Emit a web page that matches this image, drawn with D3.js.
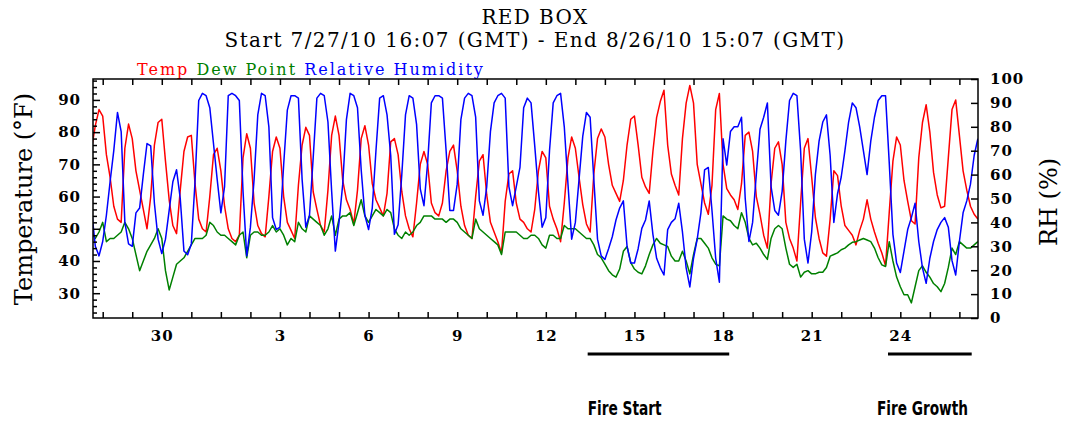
<!DOCTYPE html>
<html>
<head>
<meta charset="utf-8">
<script src="https://cdn.jsdelivr.net/npm/d3@7"></script>
<style>
  body { margin: 0; background: #fff; }
  svg { display: block; }
</style>
</head>
<body>
<div id="chart"></div>
<script>
// readings every 3 hours, the first one at 7/27/10 15:00 GMT
const temp = [
  75, 82, 87,
  85, 73, 66, 57, 53, 52, 75, 82.5,      // 7/28
  78, 68, 62, 56, 50, 60, 76, 83,        // 7/29
  84, 71, 59, 51, 48.5, 62, 74, 78.5,    // 7/30
  79, 64, 53, 50, 49, 60, 73, 75,        // 7/31
  68, 57, 50, 47, 46, 48, 72, 79.5,      // 8/1
  75, 58, 51, 48.5, 47.5, 60, 74, 78.5,  // 8/2
  75, 60, 52, 49.5, 47, 63.5, 76, 81.5,  // 8/3
  79, 61.5, 56, 51, 49, 62, 79, 85,      // 8/4
  79, 65, 59, 56, 51.5, 62, 78, 82,      // 8/5
  76, 64, 59, 56.5, 54, 61, 77, 78,      // 8/6
  73, 61.5, 54, 50, 47.5, 58, 70, 74,    // 8/7
  70, 58, 55, 54, 58, 68, 74, 76,        // 8/8
  68, 57, 51, 48, 47, 60, 71, 73,        // 8/9
  60.5, 52, 49, 46, 42.5, 58.5, 67, 68,  // 8/10
  58, 53, 52, 50, 49, 56, 68, 74,        // 8/11
  72, 57, 53, 50, 46, 58, 72, 78.5,      // 8/12
  75, 66, 57.5, 51.5, 49, 67, 78, 81,    // 8/13
  78.5, 70, 63.5, 61, 58.5, 65, 76, 84,  // 8/14
  85, 76, 66, 63, 61, 74, 84.5, 89.5,    // 8/15
  93, 76, 67, 63.5, 60.5, 78, 89, 94.5,  // 8/16
  89, 70, 64, 58, 54.5, 63.5, 87, 92,    // 8/17
  70, 62.5, 60.5, 59, 56, 64, 79, 80,    // 8/18
  74, 60, 54.5, 48, 44, 64, 75, 77,      // 8/19
  70, 52, 47, 44, 40, 58, 75, 78,        // 8/20
  66, 53.5, 47, 42.5, 41.5, 53, 68, 66.5,// 8/21
  57, 51, 49.5, 48, 45, 49.5, 53, 59,    // 8/22
  53, 49, 45.5, 42.5, 38.5, 55, 71, 78.5,// 8/23
  76, 65, 58.5, 52.5, 51.5, 72, 83, 88.5,// 8/24
  80, 67.5, 60.5, 56.5, 57, 72, 87, 90,  // 8/25
  79, 68, 62, 57, 54.5, 53               // 8/26
];

const dewPoint = [
  49, 47, 49,
  52, 46, 47, 47, 48, 49, 52, 50,
  47, 42, 37, 40, 43, 45, 47, 50,
  47, 37, 31, 35, 39, 40, 41, 43,
  45, 47, 47, 47, 48, 52, 51, 49,
  48, 48, 47, 46, 45, 48, 49, 41,
  48, 49, 49, 48, 48, 49, 51, 49,
  50, 48, 45, 47, 46, 52, 50, 49,
  54, 53, 52, 51, 48, 50, 54, 48,
  53, 54, 54, 55, 51, 55, 59, 54,
  52, 54, 56, 55, 54, 56, 55, 50,
  48, 47, 49, 48, 49, 51, 52, 54,
  54, 54, 53, 53, 53, 52, 53, 53,
  52, 50, 49, 48, 47, 53, 50, 49,
  48, 47, 46, 45, 42, 49, 49, 49,
  49, 48, 47, 47, 48, 48, 47, 45,
  44, 48, 48, 47, 47, 51, 50, 50,
  50, 49, 48, 47, 47, 45, 42, 41,
  39, 37, 35.7, 35, 37.5, 43, 44.5, 39.5,
  37.5, 36.5, 36, 38.5, 42, 45, 47, 45.5,
  45, 44.5, 41.5, 40, 40, 43, 40, 36,
  42, 47, 47, 45.5, 44, 41, 39, 38.5,
  54, 53, 52.5, 51, 50, 55, 52, 47,
  45, 45.5, 44, 42, 40.5, 47, 50, 51,
  50, 44, 39, 38, 39, 35, 36.5, 37,
  36, 36, 36.5, 36.5, 38, 41.5, 42, 42.5,
  43.5, 44, 45, 45.8, 46, 46.5, 47, 46.5,
  46, 44, 41, 38.8, 38.3, 46, 40, 35,
  32, 29.5, 29.5, 27, 32, 37, 38.5, 36.5,
  35, 33, 32, 30.5, 33, 38, 44, 42,
  46, 45, 44, 44, 45, 46
];

const relHumidity = [
  45, 30, 26,
  32, 43, 57, 70, 86, 78, 40, 31,
  30, 44, 46, 60, 73, 72, 48, 33,
  27, 33, 45, 57, 62, 50, 28, 26.5,
  31, 57, 91, 94, 93, 88, 73, 58,
  44, 55, 93, 94, 93, 91, 53, 26,
  38, 58, 85, 94, 93, 80, 42, 37,
  38, 64, 87, 93, 93, 92, 58, 38,
  43, 67, 92, 94, 93, 82, 53, 28,
  40, 56, 83, 94, 93, 88, 62, 43,
  37, 46, 70, 92, 93, 85, 68, 35,
  39, 60, 85, 93, 92, 81, 54, 47,
  65, 90, 93, 93, 92, 70, 45, 45,
  56, 83, 92, 94, 93, 84, 49, 43,
  55, 78, 90, 93, 94, 92, 55, 47,
  55, 63, 88, 92, 90, 72, 53, 38,
  42, 70, 90, 93, 94, 80, 56, 33,
  40, 58, 76, 86, 84, 58, 33, 26,
  24.5, 29, 34, 41, 46, 49, 30, 23,
  23, 29, 37.5, 41, 49, 35, 25, 21,
  18, 37, 40, 41.5, 48, 36, 21, 13,
  25, 33, 44, 62, 63, 45, 25, 15,
  75, 64, 78, 80, 80, 84, 50, 32,
  40, 60, 79, 84, 90, 55, 45, 43,
  53, 74, 91, 94, 93, 70, 33, 23,
  36, 60, 74, 82, 85, 68, 40, 52,
  59, 70, 82, 90, 88, 80, 70, 60,
  74, 84, 91, 93, 93, 65, 35, 23,
  19, 28, 37, 42, 48, 32, 21, 14.5,
  25, 32, 37, 40, 42, 38, 24, 18,
  32, 44, 49, 56, 68, 75
];

const tempTicks = [30, 40, 50, 60, 70, 80, 90];
const rhTicks = [0, 10, 20, 30, 40, 50, 60, 70, 80, 90, 100];

const fireNames = ["Fire Start", "Fire Growth"];
const fireFrom = [Date.UTC(2010, 7, 13, 10), Date.UTC(2010, 7, 23, 14)];
const fireTo = [Date.UTC(2010, 7, 18, 5), Date.UTC(2010, 7, 26, 10)];
const fireLabelAt = [Date.UTC(2010, 7, 13, 10), Date.UTC(2010, 7, 23, 5)];
const fireLabelWidth = [74, 91];

const start = new Date(Date.UTC(2010, 6, 27, 16, 7));
const end = new Date(Date.UTC(2010, 7, 26, 15, 7));
const firstReading = new Date(Date.UTC(2010, 6, 27, 15));

const width = 1066, height = 427;
const plot = {left: 93, right: 978, top: 79, bottom: 318};
const serif = "'DejaVu Serif', serif";

const svg = d3.select("#chart").append("svg")
    .attr("width", width)
    .attr("height", height);

const x = d3.scaleUtc().domain([start, end]).range([plot.left, plot.right]);
const yT = d3.scaleLinear().domain([22.3, 96.5]).range([plot.bottom, plot.top]);
const yRH = d3.scaleLinear().domain([0, 100]).range([plot.bottom, plot.top]);

const times = temp.map((d, i) => d3.utcHour.offset(firstReading, i * 3));

// title
svg.append("text")
    .attr("x", 535).attr("y", 24)
    .attr("text-anchor", "middle")
    .style("font-family", serif).style("font-size", "20px").style("letter-spacing", "1.4px")
    .text("RED BOX");
svg.append("text")
    .attr("x", 535).attr("y", 47)
    .attr("text-anchor", "middle")
    .style("font-family", serif).style("font-size", "20px").style("letter-spacing", "1.4px")
    .text("Start 7/27/10 16:07 (GMT) - End 8/26/10 15:07 (GMT)");

// legend
let legend = svg.append("text")
    .attr("x", 137).attr("y", 75)
    .style("font-family", serif).style("font-size", "16px").style("letter-spacing", "2px");
legend.append("tspan").attr("fill", "#ff0000").text("Temp ");
legend.append("tspan").attr("fill", "#008000").text("Dew Point ");
legend.append("tspan").attr("fill", "#0000ff").text("Relative Humidity");

// lines
svg.append("clipPath").attr("id", "plotClip")
  .append("rect")
    .attr("x", plot.left).attr("y", plot.top)
    .attr("width", plot.right - plot.left).attr("height", plot.bottom - plot.top);

const lines = [
    {values: temp, scale: yT, color: "#ff0000"},
    {values: dewPoint, scale: yT, color: "#008000"},
    {values: relHumidity, scale: yRH, color: "#0000ff"}
];
lines.forEach(s => {
    let line = d3.line()
        .x((d, i) => x(times[i]))
        .y(d => s.scale(d));
    svg.append("path")
        .datum(s.values)
        .attr("clip-path", "url(#plotClip)")
        .attr("fill", "none")
        .attr("stroke", s.color)
        .attr("stroke-width", 1.5)
        .attr("stroke-linejoin", "round")
        .attr("d", line);
});

// axes
const days = d3.utcDay.range(d3.utcDay.ceil(start), end);

function styleAxis(g) {
    g.select(".domain").remove();
    g.selectAll("line").attr("stroke", "#000").attr("stroke-width", 1.5);
    g.selectAll("text")
        .attr("fill", "#000")
        .style("font-family", serif)
        .style("font-weight", "bold")
        .style("font-size", "15px")
        .style("letter-spacing", "1px");
}

svg.append("g")
    .attr("transform", `translate(0, ${plot.bottom})`)
    .call(d3.axisBottom(x).tickValues(days).tickSize(-6).tickPadding(12)
        .tickFormat(d => d.getUTCDate() % 3 === 0 ? d.getUTCDate() : ""))
    .call(styleAxis);

svg.append("g")
    .attr("transform", `translate(0, ${plot.top})`)
    .call(d3.axisTop(x).tickValues(days).tickSize(-6).tickFormat(""))
    .call(styleAxis);

svg.append("g")
    .attr("transform", `translate(${plot.left}, 0)`)
    .call(d3.axisLeft(yT)
        .tickValues(d3.range(24, 97, 2).filter(v => v % 10 !== 0))
        .tickSize(-4).tickFormat(""))
    .call(styleAxis);

svg.append("g")
    .attr("transform", `translate(${plot.left}, 0)`)
    .call(d3.axisLeft(yT).tickValues(tempTicks).tickSize(-7).tickPadding(12))
    .call(styleAxis);

svg.append("g")
    .attr("transform", `translate(${plot.right}, 0)`)
    .call(d3.axisRight(yRH).tickValues(rhTicks).tickSize(-7).tickPadding(12))
    .call(styleAxis);

// frame
svg.append("rect")
    .attr("x", plot.left).attr("y", plot.top)
    .attr("width", plot.right - plot.left).attr("height", plot.bottom - plot.top)
    .attr("fill", "none")
    .attr("stroke", "#000")
    .attr("stroke-width", 1.5);

// axis titles
svg.append("text")
    .attr("transform", `translate(32, 199) rotate(-90)`)
    .attr("text-anchor", "middle")
    .style("font-family", serif).style("font-size", "24px")
    .text("Temperature (°F)");
svg.append("text")
    .attr("transform", `translate(1057, 202) rotate(-90)`)
    .attr("text-anchor", "middle")
    .style("font-family", serif).style("font-size", "24px")
    .text("RH (%)");

// fire periods
fireNames.forEach((name, i) => {
    svg.append("line")
        .attr("x1", x(fireFrom[i])).attr("x2", x(fireTo[i]))
        .attr("y1", 354).attr("y2", 354)
        .attr("stroke", "#000")
        .attr("stroke-width", 3);
    svg.append("text")
        .attr("x", x(fireLabelAt[i])).attr("y", 415)
        .attr("textLength", fireLabelWidth[i])
        .attr("lengthAdjust", "spacingAndGlyphs")
        .style("font-family", "'Liberation Sans Narrow', 'DejaVu Sans Condensed', sans-serif")
        .style("font-weight", "bold")
        .style("font-size", "20px")
        .text(name);
});
</script>
</body>
</html>
